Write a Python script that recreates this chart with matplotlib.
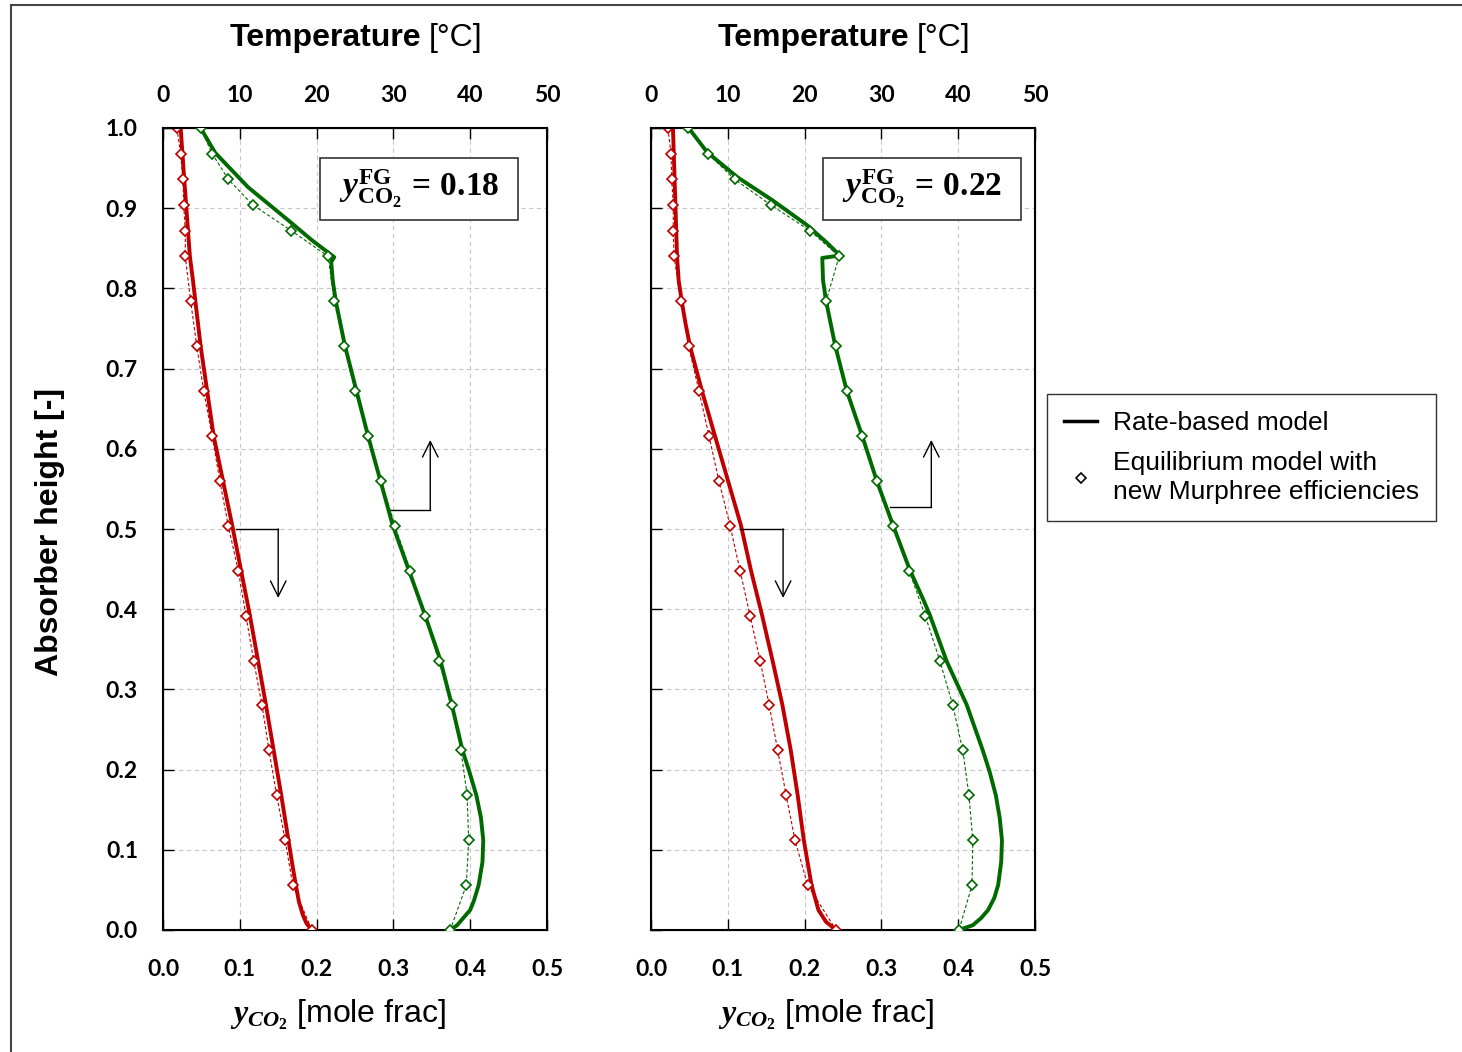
import matplotlib
matplotlib.use("Agg")
import matplotlib.pyplot as plt
from matplotlib.lines import Line2D
from matplotlib.patches import Rectangle

plt.rcParams['font.family'] = ['Lato', 'DejaVu Sans']
plt.rcParams['font.weight'] = 'bold'
plt.rcParams['mathtext.fontset'] = 'custom'
plt.rcParams['mathtext.rm'] = 'Liberation Serif:bold'
plt.rcParams['mathtext.it'] = 'Liberation Serif:italic:bold'
plt.rcParams['mathtext.bf'] = 'Liberation Serif:bold'

# stage heights of the equilibrium model
stage_h = [1.0, 0.968, 0.936, 0.904, 0.872, 0.84, 0.784, 0.728, 0.672, 0.616, 0.56,
           0.504, 0.448, 0.392, 0.336, 0.28, 0.224, 0.168, 0.112, 0.056, 0.0]

# yFG = 0.18
eq_y_18 = [0.018, 0.023, 0.026, 0.027, 0.029, 0.029, 0.036, 0.044, 0.053, 0.064, 0.074,
           0.085, 0.098, 0.108, 0.118, 0.129, 0.138, 0.148, 0.159, 0.169, 0.194]
eq_T_18 = [4.9, 6.4, 8.5, 11.7, 16.7, 21.5, 22.3, 23.6, 25.0, 26.7, 28.4,
           30.2, 32.2, 34.1, 35.9, 37.6, 38.8, 39.6, 39.8, 39.5, 37.4]
rb_h_y_18 = [1.0, 0.938, 0.84, 0.81, 0.728, 0.616, 0.505, 0.393, 0.281, 0.168, 0.084,
             0.056, 0.035, 0.019, 0.008, 0.0]
rb_y_18 = [0.023, 0.0275, 0.035, 0.039, 0.049, 0.066, 0.090, 0.113, 0.134, 0.154, 0.168,
           0.173, 0.177, 0.182, 0.187, 0.194]
rb_h_T_18 = [1.0, 0.969, 0.926, 0.885, 0.86, 0.839, 0.833, 0.81, 0.784, 0.728, 0.616, 0.505,
             0.393, 0.337, 0.281, 0.224, 0.197, 0.168, 0.14, 0.112, 0.085, 0.056, 0.037,
             0.025, 0.006, 0.0]
rb_T_18 = [4.9, 6.8, 11.1, 16.3, 19.4, 22.3, 21.9, 22.1, 22.5, 23.7, 26.7, 29.9,
           34.1, 36.1, 37.6, 39.0, 39.9, 40.8, 41.4, 41.7, 41.6, 41.1, 40.5,
           40.0, 38.3, 37.4]

# yFG = 0.22
eq_y_22 = [0.022, 0.026, 0.027, 0.029, 0.029, 0.030, 0.039, 0.049, 0.0625, 0.0755, 0.0885,
           0.103, 0.116, 0.129, 0.142, 0.154, 0.165, 0.176, 0.1875, 0.204, 0.241]
eq_T_22 = [4.8, 7.4, 10.9, 15.6, 20.7, 24.5, 22.8, 24.1, 25.5, 27.5, 29.4,
           31.5, 33.6, 35.7, 37.6, 39.3, 40.6, 41.4, 41.9, 41.8, 40.1]
rb_h_y_22 = [1.0, 0.84, 0.81, 0.784, 0.756, 0.728, 0.672, 0.616, 0.56, 0.505, 0.449, 0.393,
             0.337, 0.281, 0.224, 0.168, 0.112, 0.056, 0.025, 0.01, 0.0]
rb_y_22 = [0.0286, 0.0339, 0.036, 0.040, 0.045, 0.0508, 0.0664, 0.0833, 0.1003, 0.117,
           0.130, 0.1445, 0.158, 0.171, 0.182, 0.191, 0.199, 0.209, 0.218, 0.228, 0.241]
rb_h_T_22 = [1.0, 0.970, 0.939, 0.910, 0.879, 0.857, 0.841, 0.838, 0.810, 0.784, 0.728, 0.672,
             0.616, 0.56, 0.505, 0.449, 0.411, 0.393, 0.335, 0.281, 0.224, 0.197, 0.168,
             0.14, 0.112, 0.085, 0.056, 0.04, 0.025, 0.015, 0.006, 0.0]
rb_T_22 = [4.9, 7.3, 11.2, 15.8, 20.3, 22.9, 24.6, 22.3, 22.4, 22.8, 24.0, 25.5,
           27.5, 29.4, 31.5, 33.7, 35.5, 36.3, 38.5, 41.1, 43.2, 44.1, 44.9,
           45.4, 45.7, 45.6, 45.2, 44.7, 43.9, 43.0, 41.9, 40.1]

panels = [
    (163, eq_y_18, eq_T_18, rb_h_y_18, rb_y_18, rb_h_T_18, rb_T_18, '0.18', True),
    (651, eq_y_22, eq_T_22, rb_h_y_22, rb_y_22, rb_h_T_22, rb_T_22, '0.22', False),
]

red = '#c00000'
green = '#006a00'
W, H = 1462, 1052
fig = plt.figure(figsize=(W / 100, H / 100), dpi=100)

for x0, eqy, eqT, hy, ry, hT, rT, yfg, first in panels:
    ax = fig.add_axes([x0 / W, (H - 930) / H, 384 / W, 802 / H])
    ax.set_xlim(0, 0.5)
    ax.set_ylim(0, 1)
    ax.set_xticks([0, 0.1, 0.2, 0.3, 0.4, 0.5])
    ax.set_yticks([i / 10 for i in range(11)])
    ax.xaxis.set_major_formatter(matplotlib.ticker.FormatStrFormatter('%.1f'))
    ax.yaxis.set_major_formatter(matplotlib.ticker.FormatStrFormatter('%.1f'))
    ax.grid(True, color='#c8c8c8', linestyle=(0, (4, 3)), linewidth=0.8)
    ax.tick_params(direction='in', length=8, width=1, labelsize=16.5, top=False, right=False)
    ax.tick_params(axis='x', pad=21)
    ax.tick_params(axis='y', pad=18, labelleft=first)
    for s in ax.spines.values():
        s.set_linewidth(1.5)

    tw = ax.twiny()
    tw.set_xlim(0, 50)
    tw.set_xticks([0, 10, 20, 30, 40, 50])
    tw.tick_params(direction='in', length=8, width=1, labelsize=16.5, pad=16)

    ax.plot(ry, hy, color=red, lw=2.8, zorder=4, solid_joinstyle='round')
    ax.plot(eqy, stage_h, color=red, lw=0.8, ls=(0, (3, 2)), marker='D', ms=5.5,
            mfc='white', mec=red, mew=1.2, zorder=5)
    tw.plot(rT, hT, color=green, lw=2.8, zorder=4, solid_joinstyle='round')
    tw.plot(eqT, stage_h, color=green, lw=0.8, ls=(0, (3, 2)), marker='D', ms=5.5,
            mfc='white', mec=green, mew=1.2, zorder=5)
    tw.set_ylim(0, 1)

    # box with the flue gas composition
    bx = (320 - 163) / 384 if first else (823 - 651) / 384
    ax.add_patch(Rectangle((bx, 0.885), 198 / 384, 62 / 802, transform=ax.transAxes,
                           facecolor='white', edgecolor='#333333', lw=1.2, zorder=6))
    ax.text(bx + 99 / 384, 0.924, r'$y^{\mathrm{FG}}_{\mathrm{CO_2}}\,=\,' + yfg + '$',
            transform=ax.transAxes, ha='center', va='center', fontsize=24, zorder=7)

    # arrows to the axes
    if first:
        rx = (0.095, 0.15)
        gx = (0.296, 0.348)
        gy = 0.524
    else:
        rx = (0.116, 0.172)
        gx = (0.311, 0.365)
        gy = 0.527
    ax.plot(rx, [0.5, 0.5], color='black', lw=1, zorder=6)
    ax.annotate('', xy=(rx[1], 0.414), xytext=(rx[1], 0.5),
                arrowprops=dict(arrowstyle='->', lw=1, color='black', mutation_scale=28,
                                shrinkA=0, shrinkB=0), zorder=6)
    ax.plot(gx, [gy, gy], color='black', lw=1, zorder=6)
    ax.annotate('', xy=(gx[1], 0.611), xytext=(gx[1], gy),
                arrowprops=dict(arrowstyle='->', lw=1, color='black', mutation_scale=28,
                                shrinkA=0, shrinkB=0), zorder=6)

    fig.text((x0 + 258) / W, 1 - 38 / H, 'Temperature', ha='right', va='center',
             family='Liberation Sans', weight='bold', fontsize=23)
    fig.text((x0 + 266) / W, 1 - 38 / H, '[°C]', ha='left', va='center',
             family='Liberation Sans', weight='normal', fontsize=23)
    fig.text((x0 + 175) / W, 1 - 1015 / H, r'$y_{CO_2}$ [mole frac]', ha='center', va='center',
             family='Liberation Sans', weight='normal', fontsize=23)

fig.text(50 / W, 1 - 532 / H, 'Absorber height [-]', rotation=90, ha='center', va='center',
         family='Liberation Sans', weight='bold', fontsize=23)

handles = [Line2D([], [], color='black', lw=2.5),
           Line2D([], [], color='black', lw=0, marker='D', ms=5, mfc='white', mew=1.2)]
leg = fig.legend(handles, ['Rate-based model', 'Equilibrium model with\nnew Murphree efficiencies'],
                 loc='upper left', bbox_to_anchor=(1047 / W, 1 - 394 / H), borderaxespad=0,
                 fancybox=False, framealpha=1, edgecolor='#333333', handlelength=1.25,
                 handletextpad=0.6, borderpad=0.65, labelspacing=0.6,
                 prop=dict(family='Liberation Sans', weight='normal', size=19))
leg.get_frame().set_linewidth(1.0)
for t in leg.get_texts():
    t.set_linespacing(1.25)

# outer frame (left and top edges)
fig.add_artist(Line2D([11 / W, 11 / W], [0, 1 - 5 / H], transform=fig.transFigure,
                      color='#444444', lw=1.5))
fig.add_artist(Line2D([11 / W, 1], [1 - 5 / H, 1 - 5 / H], transform=fig.transFigure,
                      color='#444444', lw=1.5))

fig.savefig('out.png', dpi=100)
